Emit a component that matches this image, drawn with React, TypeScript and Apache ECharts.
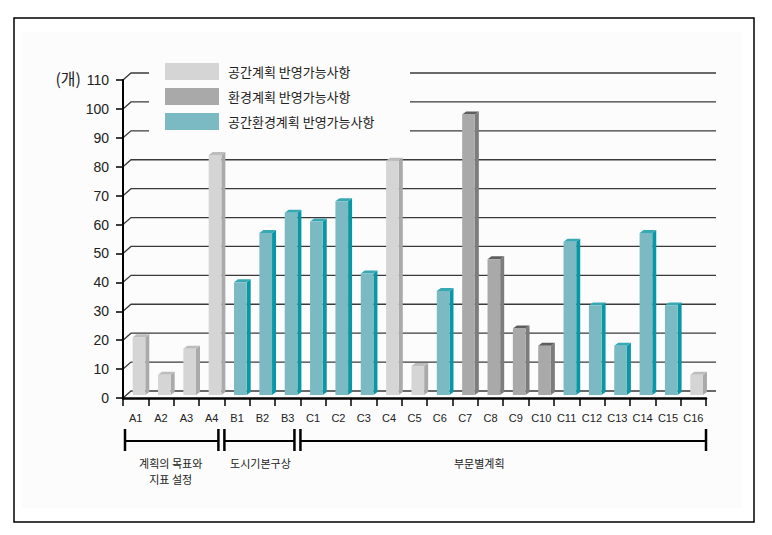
import React, { useEffect, useRef } from "react";
import * as echarts from "echarts";

const categories = ["A1", "A2", "A3", "A4", "B1", "B2", "B3", "C1", "C2", "C3", "C4", "C5", "C6", "C7", "C8", "C9", "C10", "C11", "C12", "C13", "C14", "C15", "C16"];
const barValues = [20, 7, 16, 83, 39, 56, 63, 60, 67, 42, 81, 10, 36, 97, 47, 23, 17, 53, 31, 17, 56, 31, 7];
const barKinds = ["space", "space", "space", "space", "both", "both", "both", "both", "both", "both", "space", "space", "both", "env", "env", "env", "env", "both", "both", "both", "both", "both", "space"];
const seriesKeys = ["space", "env", "both"];
const seriesNames = ["공간계획 반영가능사항", "환경계획 반영가능사항", "공간환경계획 반영가능사항"];
const yTicks = [0, 10, 20, 30, 40, 50, 60, 70, 80, 90, 100, 110];
const yUnit = "(개)";
const groupNames = ["계획의 목표와\n지표 설정", "도시기본구상", "부문별계획"];
const groupStart = [0, 4, 7];
const groupEnd = [3, 6, 22];

const palette: Record<string, { front: string; side: string; top: string }> = {
  space: { front: "#d5d5d5", side: "#aaaaaa", top: "#bdbdbd" },
  env: { front: "#a9a9a9", side: "#7c7c7c", top: "#5e5e5e" },
  both: { front: "#7bbac3", side: "#0a97a5", top: "#37a9b4" },
};
const labelShift = [-1, 1, -24];
const FONT = "'Liberation Sans', 'Noto Sans CJK KR', sans-serif";
const KFONT = "'Noto Sans CJK KR', sans-serif";

export default function App() {
  const ref = useRef<HTMLDivElement>(null);
  useEffect(() => {
    if (!ref.current) return;
    const chart = echarts.init(ref.current, null, { renderer: "svg" });
    const lastIdx = categories.length - 1;

    const barSeries = seriesKeys.map((key, si) => {
      const col = palette[key];
      const data: number[][] = [];
      barValues.forEach((v, i) => {
        if (barKinds[i] === key) data.push([i, v]);
      });
      return {
        type: "custom",
        name: seriesNames[si],
        z: 3,
        itemStyle: { color: col.front },
        encode: { x: 0, y: 1 },
        data,
        renderItem: (params: any, api: any) => {
          const idx = api.value(0);
          const v = api.value(1);
          const base = api.coord([idx, 0]);
          const top = api.coord([idx, v]);
          const band = api.size([1, 0])[0];
          const xl = base[0] - band / 2 + band * 0.38;
          const w = band * 0.5;
          const xr = xl + w;
          const yb = base[1] - 3;
          const yt = top[1] - 3;
          const dx = 4, dy = 3;
          return {
            type: "group",
            children: [
              { type: "polygon", shape: { points: [[xr, yb], [xr + dx, yb - dy], [xr + dx, yt - dy], [xr, yt]] }, style: { fill: col.side } },
              { type: "polygon", shape: { points: [[xl, yt], [xl + dx, yt - dy], [xr + dx, yt - dy], [xr, yt]] }, style: { fill: col.top } },
              { type: "rect", shape: { x: xl, y: yt, width: w, height: yb - yt }, style: { fill: col.front } },
            ],
          };
        },
      };
    });

    const gridSeries = {
      type: "custom",
      name: "backwall",
      z: 1,
      silent: true,
      clip: false,
      encode: { x: 0, y: 1 },
      data: yTicks.map((v) => [0, v]),
      renderItem: (params: any, api: any) => {
        const v = api.value(1);
        const pt = api.coord([0, v]);
        const band = api.size([1, 0])[0];
        const x0 = pt[0] - band / 2;
        const y = pt[1];
        const end = api.coord([lastIdx, v])[0] + band / 2 + 10;
        return {
          type: "polyline",
          shape: { points: [[x0, y], [x0 + 8, y - 7], [end, y - 7]] },
          style: { stroke: "#3a3a3a", lineWidth: 1.3, fill: null },
        };
      },
    };

    const groupSeries = {
      type: "custom",
      name: "groups",
      z: 3,
      silent: true,
      clip: false,
      encode: { x: 0, y: 2 },
      data: groupStart.map((s, i) => [s, groupEnd[i], i]),
      renderItem: (params: any, api: any) => {
        const s = api.value(0);
        const e = api.value(1);
        const g = api.value(2);
        const band = api.size([1, 0])[0];
        const xs = api.coord([s, 0])[0] - band / 2;
        const xe = api.coord([e, 0])[0] + band / 2;
        const y0 = api.coord([0, 0])[1];
        const xL = xs + (s === 0 ? 2 : 0);
        const xR = xe - (e === lastIdx ? 0 : 6);
        const yl = y0 + 43;
        const stroke = { stroke: "#000", lineWidth: 2 };
        return {
          type: "group",
          children: [
            { type: "line", shape: { x1: xL, y1: yl, x2: xR, y2: yl }, style: stroke },
            { type: "line", shape: { x1: xL, y1: yl - 12, x2: xL, y2: yl + 10 }, style: { stroke: "#000", lineWidth: 2.5 } },
            { type: "line", shape: { x1: xR, y1: yl - 12, x2: xR, y2: yl + 10 }, style: { stroke: "#000", lineWidth: 2.5 } },
            {
              type: "text",
              style: {
                text: groupNames[g],
                x: (xL + xR) / 2 + labelShift[g],
                y: y0 + 57,
                textAlign: "center",
                textVerticalAlign: "top",
                fontSize: 11,
                lineHeight: 16,
                fontFamily: KFONT,
                fill: "#222",
              },
            },
          ],
        };
      },
    };

    chart.setOption({
      animation: false,
      backgroundColor: "#ffffff",
      grid: { left: 123, top: 80, width: 583, height: 318, containLabel: false },
      graphic: [
        { type: "rect", z: 0, shape: { x: 14, y: 18, width: 740, height: 504 }, style: { fill: "#ffffff", stroke: "#000", lineWidth: 1.5 } },
        { type: "rect", z: 0, shape: { x: 22, y: 32, width: 720, height: 476 }, style: { fill: "#fcfcfc" } },
        { type: "rect", z: 2, shape: { x: 149, y: 58, width: 261, height: 76 }, style: { fill: "#fcfcfc" } },
        { type: "text", z: 5, x: 81, y: 78, style: { text: yUnit, fontSize: 16, fill: "#222", fontFamily: KFONT, textAlign: "right", textVerticalAlign: "middle" } },
      ],
      legend: {
        orient: "vertical",
        left: 165,
        top: 63,
        padding: 0,
        itemWidth: 54,
        itemHeight: 17,
        itemGap: 8,
        icon: "rect",
        selectedMode: false,
        z: 10,
        data: seriesNames,
        textStyle: { fontSize: 13, color: "#222", fontFamily: KFONT, padding: [0, 0, 0, 4] },
      },
      xAxis: {
        type: "category",
        data: categories,
        boundaryGap: true,
        axisLine: { show: true, lineStyle: { color: "#000", width: 2.5 } },
        axisTick: { show: true, length: 8, interval: 0, alignWithLabel: false, lineStyle: { color: "#000", width: 1.5 } },
        axisLabel: { interval: 0, fontSize: 11, color: "#222", margin: 14, fontFamily: FONT },
        splitLine: { show: false },
        z: 4,
      },
      yAxis: {
        type: "value",
        min: 0,
        max: 110,
        interval: 10,
        axisLine: { show: true, lineStyle: { color: "#000", width: 2 } },
        axisTick: { show: true, length: 7, lineStyle: { color: "#000", width: 1.5 } },
        axisLabel: { fontSize: 14, color: "#222", margin: 14, fontFamily: FONT },
        splitLine: { show: false },
        z: 4,
      },
      series: [gridSeries, ...barSeries, groupSeries],
    });
    return () => chart.dispose();
  }, []);
  return <div ref={ref} style={{ position: "fixed", left: 0, top: 0, width: 772, height: 535, background: "#fff" }} />;
}
